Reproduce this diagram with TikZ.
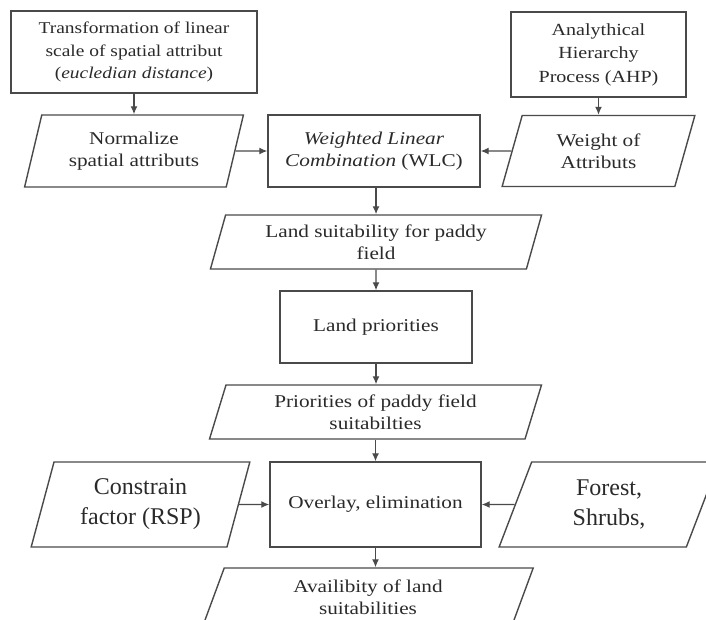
\documentclass[tikz,border=0pt]{standalone}
\usepackage{fontspec}
\setmainfont[FakeStretch=1.18]{Liberation Serif}
\newfontfamily\plainserif{Liberation Serif}
\usetikzlibrary{shapes.geometric,arrows.meta}
\definecolor{FlowLine}{HTML}{4A4A4A}
\definecolor{FlowText}{HTML}{2A2A2A}

\begin{document}
\begin{tikzpicture}[x=1pt,y=-1pt,
    procbox/.style={draw=FlowLine,line width=1.4pt,rectangle,align=center,
        text=FlowText,font=\fontsize{18}{22}\selectfont,inner sep=1pt},
    databox/.style={draw=FlowLine,line width=1.4pt,trapezium,
        trapezium left angle=73,trapezium right angle=107,trapezium stretches=true,
        align=center,text=FlowText,font=\fontsize{18}{22}\selectfont,inner sep=1pt},
    bigtext/.style={font=\plainserif\fontsize{24}{30}\selectfont},
    flow/.style={draw=FlowLine,line width=1.3pt,-{Latex[length=8pt,width=7pt]}}]
  \clip (0,0) rectangle (706,619);

  % inputs
  \node[procbox,font=\fontsize{16.5}{22.5}\selectfont,minimum width=246pt,minimum height=82pt]
        (trans) at (134,52)
        {Transformation of linear\\scale of spatial attribut\\(\textit{eucledian distance})};
  \node[procbox,font=\fontsize{17}{23.5}\selectfont,minimum width=175pt,minimum height=85pt]
        (ahp) at (598.5,54.5)
        {Analythical\\Hierarchy\\Process (AHP)};

  \node[databox,minimum width=219pt,minimum height=72pt] (norm) at (134,151)
        {Normalize\\spatial attributs};
  \node[procbox,minimum width=212pt,minimum height=72pt] (wlc) at (374,151)
        {\textit{Weighted Linear}\\\textit{Combination} (WLC)};
  \node[databox,minimum width=193pt,minimum height=71pt] (weight) at (598.5,151)
        {Weight of\\Attributs};

  % main column
  \node[databox,minimum width=332pt,minimum height=54pt] (suit) at (376,242)
        {Land suitability for paddy\\field};
  \node[procbox,minimum width=192pt,minimum height=72pt] (lpri) at (376,327)
        {Land priorities};
  \node[databox,minimum width=333pt,minimum height=54pt] (pri) at (375.5,412)
        {Priorities of paddy field\\suitabilties};
  \node[procbox,minimum width=211pt,minimum height=85pt] (ovl) at (375.5,504.5)
        {Overlay, elimination};
  \node[databox,bigtext,minimum width=219pt,minimum height=85pt] (cons) at (140.5,504.5)
        {Constrain\\factor (RSP)};
  \node[databox,bigtext,minimum width=220pt,minimum height=85pt] (forest) at (609,504.5)
        {Forest,\\Shrubs,};
  \node[databox,minimum width=331pt,minimum height=58pt] (avail) at (368,597)
        {Availibity of land\\suitabilities};

  % connectors
  \draw[flow] (trans.south) -- (trans.south |- norm.north);
  \draw[flow] (ahp.south) -- (ahp.south |- weight.north);
  \draw[flow] (norm) -- (wlc);
  \draw[flow] (weight) -- (wlc);
  \draw[flow] (wlc.south -| suit.north) -- (suit.north);
  \draw[flow] (suit.south) -- (lpri.north);
  \draw[flow] (lpri.south) -- (lpri.south |- pri.north);
  \draw[flow] (pri.south) -- (pri.south |- ovl.north);
  \draw[flow] (cons) -- (ovl);
  \draw[flow] (forest) -- (ovl);
  \draw[flow] (ovl.south) -- (ovl.south |- avail.north);
\end{tikzpicture}
\end{document}
